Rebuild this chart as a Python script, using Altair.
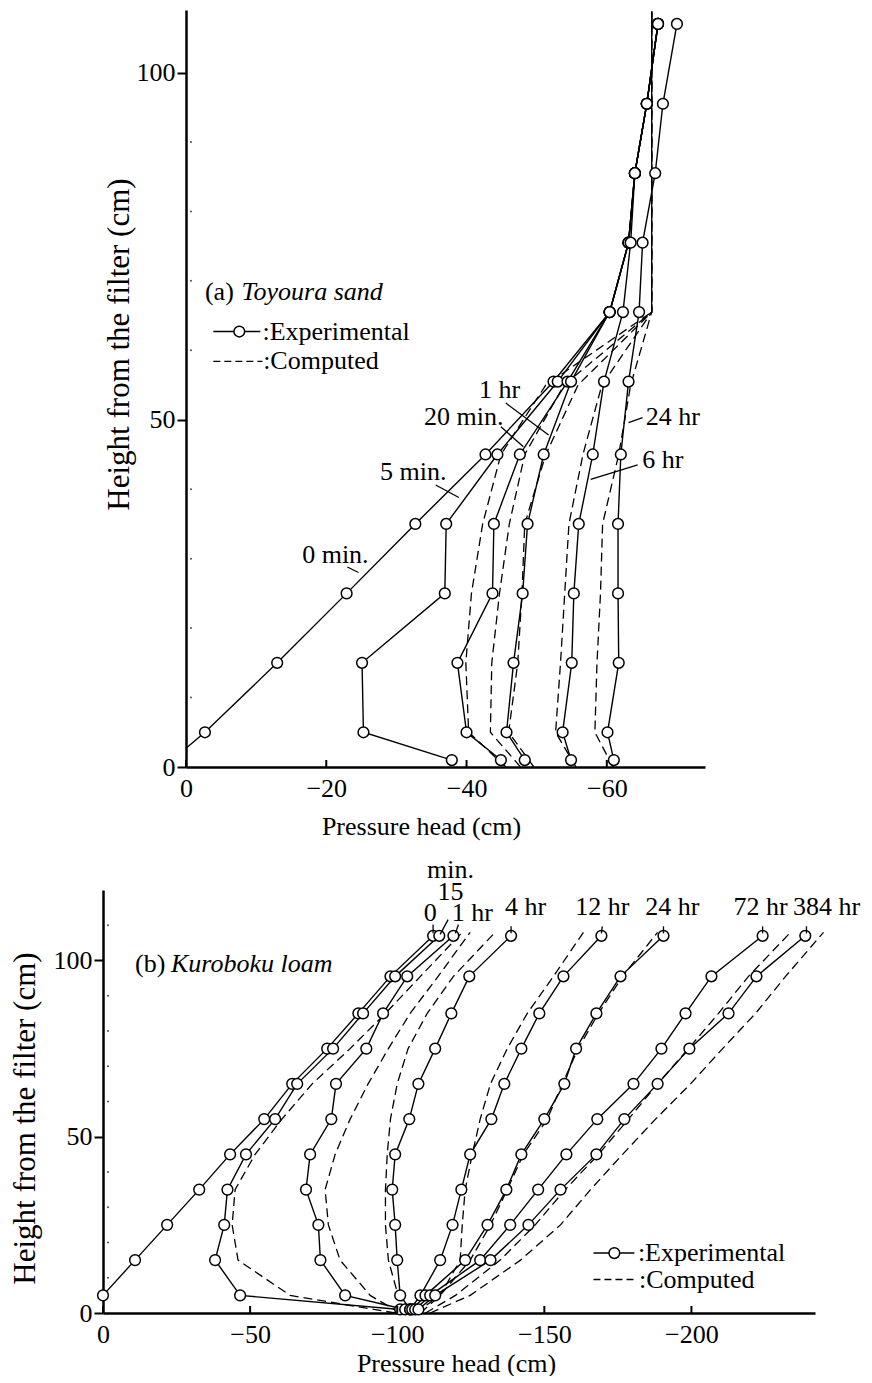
import altair as alt
import pandas as pd

FONT = "Liberation Serif"
FS = 26
YFS = 31

# ---------------- Panel (a): Toyoura sand ----------------
a_h = [1, 5, 15, 25, 35, 45, 55.5, 65.5, 75.5, 85.5, 95.5, 107]
a_h_0min = [5, 15, 25, 35, 45, 55.5, 65.5, 75.5, 85.5, 95.5, 107]
a_p_0min = [-2.7, -13.0, -22.9, -32.7, -42.7, -52.4, -60.4, -63.1, -64.0, -65.7, -67.3]
a_0min_start = (0.0, 2.7)  # where the 0 min line meets the axis
a_p_5min = [-37.9, -25.3, -25.1, -36.9, -37.1, -44.4, -53.0, -60.4, -63.1, -64.0, -65.7, -67.3]
a_p_20min = [-44.9, -40.0, -38.7, -43.7, -43.9, -47.6, -54.4, -60.4, -63.1, -64.0, -65.7, -67.3]
a_p_1hr = [-48.3, -45.7, -46.7, -48.0, -48.7, -51.0, -54.9, -60.4, -63.1, -64.0, -65.7, -67.3]
a_p_6hr = [-54.9, -53.7, -55.0, -55.3, -56.0, -58.0, -59.6, -62.3, -63.4, -64.0, -65.7, -67.3]
a_p_24hr = [-61.0, -60.1, -61.7, -61.6, -61.6, -62.0, -63.1, -64.6, -65.1, -66.9, -68.0, -70.0]

a_hc = [0, 5, 15, 25, 35, 45, 55, 65.5, 108.8]
a_c_5min = [-45.6, -40.3, -39.9, -40.7, -42.3, -44.9, -51.3, -66.4, -66.4]
a_c_20min = [-47.7, -43.4, -43.6, -44.7, -46.1, -48.3, -53.9, -66.4, -66.4]
a_c_1hr = [-49.6, -46.0, -47.3, -47.9, -48.3, -51.3, -55.9, -66.4, -66.4]
a_c_6hr = [-55.6, -52.7, -53.4, -54.0, -54.6, -56.6, -59.3, -66.4, -66.4]
a_c_24hr = [-60.9, -58.3, -58.6, -59.1, -59.4, -61.7, -63.4, -66.4, -66.4]

a_xticks = [0, -20, -40, -60]
a_yticks = [0, 50, 100]
a_ydots = [10, 20, 30, 40, 60, 70, 80, 90]

# ---------------- Panel (b): Kuroboku loam ----------------
b_h = [1, 5, 15, 25, 35, 45, 55, 65, 75, 85, 95.5, 107]
b_h_0min = [5, 15, 25, 35, 45, 55, 65, 75, 85, 95.5, 107]
b_p_0min = [0.0, -10.9, -21.8, -32.7, -43.2, -54.8, -64.3, -76.2, -86.8, -97.7, -112.2]
b_p_15min = [-101.0, -46.6, -38.1, -41.2, -42.3, -48.6, -58.5, -66.0, -78.2, -88.4, -99.3, -114.3]
b_p_1hr = [-102.7, -82.3, -73.9, -73.2, -69.0, -70.4, -77.6, -79.2, -89.5, -95.2, -103.4, -119.1]
b_p_4hr = [-104.4, -101.0, -100.0, -99.3, -98.3, -99.3, -104.1, -107.2, -112.9, -118.4, -124.5, -138.7]
b_p_12hr = [-104.4, -107.9, -114.6, -118.8, -121.8, -124.8, -132.0, -136.4, -142.2, -148.3, -156.5, -169.4]
b_p_24hr = [-105.1, -109.6, -123.1, -130.7, -137.1, -142.2, -150.0, -156.8, -160.8, -167.7, -175.9, -190.5]
b_p_72hr = [-106.1, -111.2, -128.2, -138.4, -147.9, -157.5, -168.0, -180.3, -189.8, -198.0, -206.8, -224.2]
b_p_384hr = [-107.2, -112.9, -131.7, -144.6, -155.5, -167.7, -177.2, -188.5, -199.3, -212.6, -222.1, -238.7]

b_hc = [0, 5, 15, 25, 35, 45, 55, 65, 75, 85, 95.5, 108]
b_c_15min = [-99.3, -63.6, -45.9, -43.9, -44.9, -51.7, -60.8, -71.1, -84.0, -96.0, -107.9, -122.1]
b_c_1hr = [-101.0, -90.8, -80.6, -76.6, -75.5, -78.9, -84.0, -90.1, -97.0, -104.4, -113.9, -124.8]
b_c_4hr = [-104.4, -100.3, -97.0, -96.0, -96.0, -96.6, -97.7, -100.0, -103.7, -110.2, -119.1, -133.3]
b_c_12hr = [-106.1, -114.6, -121.4, -122.1, -123.1, -125.5, -128.2, -131.7, -137.4, -144.2, -153.1, -163.3]
b_c_24hr = [-107.9, -114.6, -124.8, -131.7, -137.4, -142.9, -151.0, -156.1, -161.5, -168.4, -176.6, -188.5]
b_c_72hr = [-109.6, -119.8, -135.0, -146.9, -157.1, -168.4, -178.6, -188.5, -199.0, -209.2, -219.4, -233.7]
b_c_384hr = [-111.2, -124.8, -141.9, -155.5, -165.7, -176.6, -187.8, -199.7, -210.6, -221.8, -232.0, -244.9]

b_xticks = [0, -50, -100, -150, -200]
b_yticks = [0, 50, 100]
b_ydots = [10, 20, 30, 40, 60, 70, 80, 90, 110]


def exp_frame(curves):
    rows = []
    for name, hs, ps in curves:
        for i, (h, p) in enumerate(zip(hs, ps)):
            rows.append({"curve": name, "h": h, "p": p, "i": i})
    return pd.DataFrame(rows)


a_exp = exp_frame([
    ("0 min", a_h_0min, a_p_0min), ("5 min", a_h, a_p_5min), ("20 min", a_h, a_p_20min),
    ("1 hr", a_h, a_p_1hr), ("6 hr", a_h, a_p_6hr), ("24 hr", a_h, a_p_24hr),
])
a_exp_line = pd.concat([
    pd.DataFrame([{"curve": "0 min", "h": a_0min_start[1], "p": a_0min_start[0], "i": -1}]),
    a_exp,
], ignore_index=True)
a_comp = exp_frame([
    ("5 min", a_hc, a_c_5min), ("20 min", a_hc, a_c_20min), ("1 hr", a_hc, a_c_1hr),
    ("6 hr", a_hc, a_c_6hr), ("24 hr", a_hc, a_c_24hr),
])

b_exp = exp_frame([
    ("0 min", b_h_0min, b_p_0min), ("15 min", b_h, b_p_15min), ("1 hr", b_h, b_p_1hr),
    ("4 hr", b_h, b_p_4hr), ("12 hr", b_h, b_p_12hr), ("24 hr", b_h, b_p_24hr),
    ("72 hr", b_h, b_p_72hr), ("384 hr", b_h, b_p_384hr),
])
b_comp = exp_frame([
    ("15 min", b_hc, b_c_15min), ("1 hr", b_hc, b_c_1hr), ("4 hr", b_hc, b_c_4hr),
    ("12 hr", b_hc, b_c_12hr), ("24 hr", b_hc, b_c_24hr), ("72 hr", b_hc, b_c_72hr),
    ("384 hr", b_hc, b_c_384hr),
])

# ---------------- annotations (data coordinates) ----------------
a_text_center = pd.DataFrame({
    "text": ["0 min.", "5 min.", "20 min.", "1 hr", "24 hr", "6 hr"],
    "p": [-21.3, -32.4, -39.6, -44.7, -69.4, -68.0],
    "h": [30.5, 42.5, 50.4, 54.3, 50.4, 44.2],
})
a_text_left = pd.DataFrame({
    "text": ["(a)", ":Experimental", ":Computed"],
    "p": [-2.7, -10.9, -11.0],
    "h": [68.4, 62.7, 58.4],
})
a_text_italic = pd.DataFrame({"text": ["Toyoura sand"], "p": [-7.9], "h": [68.4]})
a_leaders = pd.DataFrame({
    "p": [-23.0, -35.6, -44.9, -45.6, -65.1, -64.4],
    "h": [28.8, 40.6, 49.0, 52.4, 50.3, 43.5],
    "p2": [-24.6, -38.9, -48.1, -51.7, -63.1, -57.7],
    "h2": [28.0, 38.8, 46.1, 47.8, 49.6, 41.4],
})
a_leg_solid = pd.DataFrame({"p": [-3.9], "p2": [-10.6], "h": [62.7]})
a_leg_dash = pd.DataFrame({"p": [-3.9], "p2": [-10.9], "h": [58.4]})
a_leg_pt = pd.DataFrame({"p": [-7.6], "h": [62.7]})

b_text_center = pd.DataFrame({
    "text": ["min.", "15", "0", "1 hr", "4 hr", "12 hr", "24 hr", "72 hr", "384 hr"],
    "p": [-118.1, -118.1, -111.2, -125.5, -143.6, -169.7, -193.5, -223.5, -245.9],
    "h": [125.6, 119.3, 113.6, 113.6, 115.3, 115.3, 115.3, 115.3, 115.3],
})
b_text_left = pd.DataFrame({
    "text": ["(b)", ":Experimental", ":Computed"],
    "p": [-10.9, -181.8, -182.2],
    "h": [99.1, 17.0, 9.5],
})
b_text_italic = pd.DataFrame({"text": ["Kuroboku loam"], "p": [-23.1], "h": [99.1]})
b_leaders = pd.DataFrame({
    "p": [-112.2, -117.3, -120.8, -138.7, -169.7, -190.5, -224.2, -239.1],
    "h": [110.2, 111.6, 110.2, 109.7, 109.7, 109.7, 109.7, 109.7],
    "p2": [-112.2, -114.6, -119.8, -138.7, -169.4, -190.5, -224.2, -239.1],
    "h2": [107.7, 107.4, 107.7, 107.7, 107.7, 107.7, 107.7, 107.7],
})
b_leg_solid = pd.DataFrame({"p": [-166.7], "p2": [-180.6], "h": [17.0]})
b_leg_dash = pd.DataFrame({"p": [-166.7], "p2": [-180.9], "h": [9.5]})
b_leg_pt = pd.DataFrame({"p": [-173.8], "h": [17.0]})

AXIS = dict(
    domainColor="black", domainWidth=2.5, tickColor="black", tickWidth=2,
    labelFont=FONT, labelFontSize=FS, labelColor="black",
    titleFont=FONT, titleFontWeight="normal", titleColor="black",
    grid=False, labelOverlap=False, labelFlush=False, format="d",
)


def panel(exp, exp_line, comp, xdom, xrange, ydom, xticks, yticks, ydots, w, hgt,
          tc, tl, ti, leaders, leg_solid, leg_dash, leg_pt,
          ytitle_x, ytitle_y, xtitle_x, xtitle_y):
    xs = alt.Scale(domain=xdom, range=xrange, nice=False, zero=False)
    ys = alt.Scale(domain=ydom, nice=False, zero=False)
    X = alt.X("p:Q", scale=xs, axis=alt.Axis(
        values=xticks, ticks=False, labelPadding=8, title="Pressure head (cm)", titleFontSize=FS,
        titleX=xtitle_x, titleY=xtitle_y, titleAlign="center", titleBaseline="middle", **AXIS))
    Y = alt.Y("h:Q", scale=ys, axis=alt.Axis(
        values=yticks, tickSize=9, labelPadding=2, title="Height from the filter (cm)",
        titleFontSize=YFS, offset=-xrange[0],
        titleX=ytitle_x, titleY=ytitle_y, titleAlign="center", titleBaseline="middle",
        titleAngle=270, **AXIS))
    Xp = alt.X("p:Q", scale=xs)
    Yp = alt.Y("h:Q", scale=ys)

    comp_l = alt.Chart(comp).mark_line(color="black", strokeWidth=1.3, strokeDash=[9, 5]).encode(
        x=X, y=Y, detail="curve:N", order="i:Q")
    exp_l = alt.Chart(exp_line).mark_line(color="black", strokeWidth=1.4).encode(
        x=Xp, y=Yp, detail="curve:N", order="i:Q")
    exp_p = alt.Chart(exp).mark_point(shape="circle", filled=True, fill="white", stroke="black",
                                      strokeWidth=1.5, size=115, opacity=1).encode(x=Xp, y=Yp)
    xt = alt.Chart(pd.DataFrame({"p": xticks})).mark_rule(color="black", strokeWidth=2).encode(
        x=Xp, y=alt.value(hgt - 7), y2=alt.value(hgt))
    yd = alt.Chart(pd.DataFrame({"h": ydots})).mark_circle(color="black", size=4, opacity=0.7).encode(
        x=alt.value(xrange[0] + 5), y=Yp)
    t_c = alt.Chart(tc).mark_text(font=FONT, fontSize=FS, color="black", align="center",
                                  baseline="middle").encode(x=Xp, y=Yp, text="text:N")
    t_l = alt.Chart(tl).mark_text(font=FONT, fontSize=FS, color="black", align="left",
                                  baseline="middle").encode(x=Xp, y=Yp, text="text:N")
    t_i = alt.Chart(ti).mark_text(font=FONT, fontSize=FS, color="black", align="left",
                                  baseline="middle", fontStyle="italic").encode(x=Xp, y=Yp, text="text:N")
    ld = alt.Chart(leaders).mark_rule(color="black", strokeWidth=1.3).encode(
        x=Xp, y=Yp, x2="p2:Q", y2="h2:Q")
    lg1 = alt.Chart(leg_solid).mark_rule(color="black", strokeWidth=1.4).encode(x=Xp, x2="p2:Q", y=Yp)
    lg2 = alt.Chart(leg_dash).mark_rule(color="black", strokeWidth=1.3, strokeDash=[7, 4]).encode(
        x=Xp, x2="p2:Q", y=Yp)
    lg3 = alt.Chart(leg_pt).mark_point(shape="circle", filled=True, fill="white", stroke="black",
                                       strokeWidth=1.5, size=115, opacity=1).encode(x=Xp, y=Yp)
    return alt.layer(comp_l, exp_l, exp_p, xt, yd, t_c, t_l, t_i, ld, lg1, lg2, lg3).properties(
        width=w, height=hgt)


# panel (a): view starts at the same left edge as panel (b); its data area begins 83 px in
pa = panel(a_exp, a_exp_line, a_comp, [0, -74], [83, 602], [0, 109], a_xticks, a_yticks, a_ydots,
           602, 757, a_text_center, a_text_left, a_text_italic, a_leaders,
           a_leg_solid, a_leg_dash, a_leg_pt, -67, 334, 318, 59)
pb = panel(b_exp, b_exp, b_comp, [0, -242], [0, 712], [0, 120], b_xticks, b_yticks, b_ydots,
           712, 423, b_text_center, b_text_left, b_text_italic, b_leaders,
           b_leg_solid, b_leg_dash, b_leg_pt, -78, 228, 353, 50)

chart = alt.vconcat(pa, pb, spacing=18).properties(
    padding={"left": 0, "top": 0, "right": 0, "bottom": 0},
    background="white",
).configure_view(strokeWidth=0, stroke="transparent")

chart.save("out.html", embed_options={"renderer": "svg", "actions": False})
